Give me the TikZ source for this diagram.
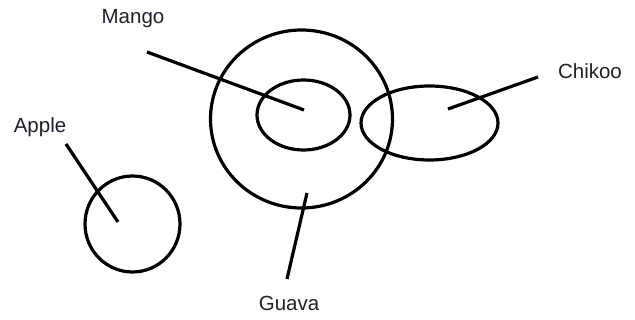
\documentclass[tikz,border=0pt]{standalone}
\usepackage{fontspec}
\setmainfont{Liberation Sans}
\usetikzlibrary{shapes.geometric}
\definecolor{txt}{RGB}{30,32,45}
\begin{document}
\begin{tikzpicture}[x=1pt,y=-1pt,
  shp/.style={draw=black,line width=3.2pt,ellipse,inner sep=0pt},
  lbl/.style={text=txt,font=\fontsize{20.5}{20.5}\selectfont,inner sep=0pt},
  conn/.style={draw=black,line width=3.2pt}]
\useasboundingbox (0,0) rectangle (635,320);
\node[shp,minimum width=182pt,minimum height=178pt] (guava) at (301.5,119) {};
\node[shp,minimum width=93pt,minimum height=70pt] (mango) at (303.5,115) {};
\node[shp,minimum width=137pt,minimum height=74pt] (chikoo) at (429.5,123) {};
\node[shp,minimum width=95pt,minimum height=96pt] (apple) at (132.5,224) {};
\node[lbl] (tmango) at (133,19) {Mango};
\node[lbl] (tchikoo) at (590,71) {Chikoo};
\node[lbl] (tapple) at (40,127) {Apple};
\node[lbl] (tguava) at (289,303) {Guava};
\coordinate (m1) at (147,52);
\coordinate (m2) at (304,110);
\coordinate (c1) at (538,77);
\coordinate (c2) at (448,109);
\coordinate (a1) at (66,144);
\coordinate (a2) at (118,222);
\coordinate (g1) at (307,193);
\coordinate (g2) at (287,279);
\draw[conn] (m1) -- (m2);
\draw[conn] (c1) -- (c2);
\draw[conn] (a1) -- (a2);
\draw[conn] (g1) -- (g2);
\end{tikzpicture}
\end{document}
